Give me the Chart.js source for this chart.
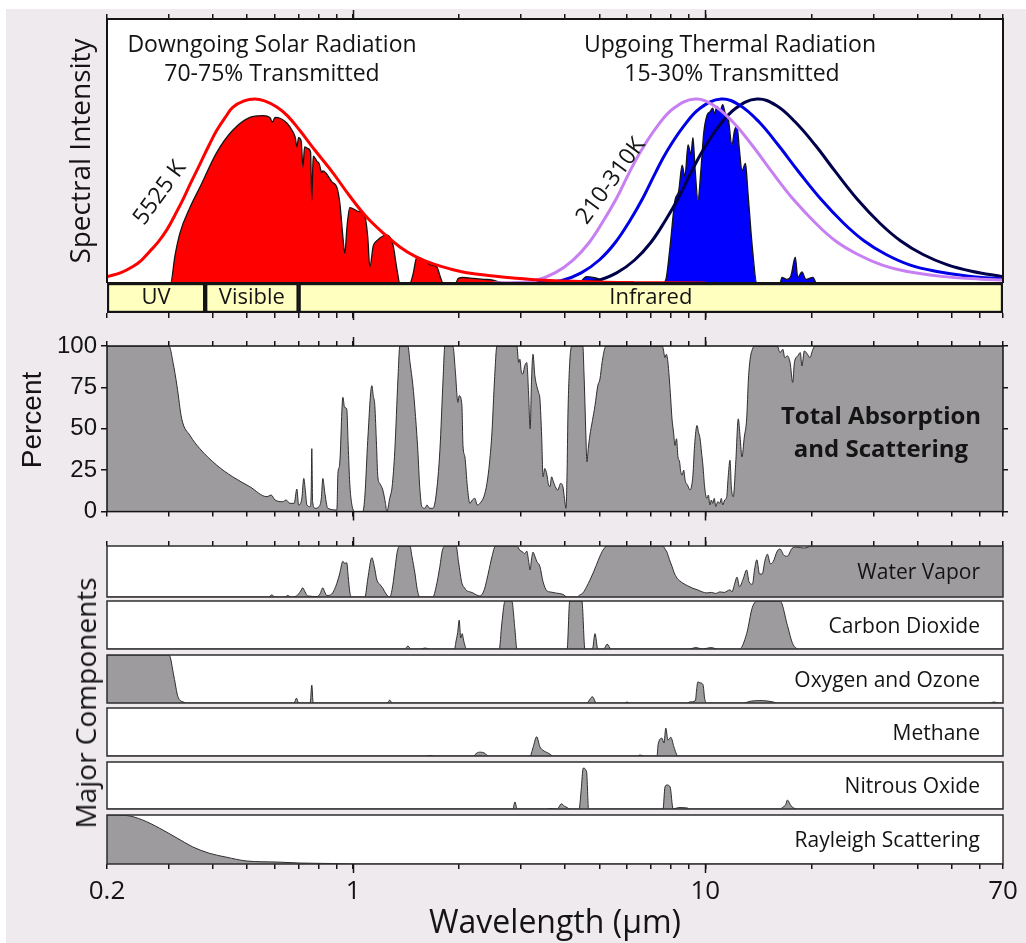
<!DOCTYPE html>
<html>
<head>
<meta charset="utf-8">
<title>Radiation transmitted by the atmosphere</title>
<script src="https://cdn.jsdelivr.net/npm/chart.js@4.4.1/dist/chart.umd.min.js"></script>
<style>
  html, body { margin: 0; padding: 0; background: #fff; }
  #page { position: relative; width: 1026px; height: 943px; overflow: hidden; }
  #paper { position: absolute; left: 6px; top: 9px; right: 0; bottom: 0; background: #eeeaee; }
  canvas { position: absolute; left: 0; }
  .vtitle {
    position: absolute;
    font-family: "Open Sans", sans-serif;
    font-size: 28px;
    color: #141414;
    white-space: nowrap;
    transform: translate(-50%, -50%) rotate(-90deg);
  }
</style>
</head>
<body>
<div id="page">
  <div id="paper"></div>
  <canvas id="spectrum" width="1026" height="283" style="top:0px"></canvas>
  <canvas id="bands" width="1026" height="39" style="top:281px"></canvas>
  <canvas id="absorption" width="1026" height="204" style="top:326px"></canvas>
  <div class="vtitle" style="left:85px; top:703px">Major Components</div>
</div>
<script>
// x axis (wavelength, µm)
const xTicks = [0.2, 0.3, 0.4, 0.5, 0.6, 0.7, 0.8, 0.9, 1, 2, 3, 4, 5, 6, 7, 8, 9, 10, 20, 30, 40, 50, 60, 70];
const xLabels = [0.2, 1, 10, 70];
const xMajor = [1, 10];
const percentTicks = [0, 25, 50, 75, 100];

const bandNames = ["UV", "Visible", "Infrared"];
const bandRanges = [[0.2, 0.38], [0.38, 0.7], [0.7, 70]];

// blackbody curves, normalised to their own peak: [wavelength, intensity]
const sun5525 = [[0.2, 0.034], [0.22, 0.058], [0.237, 0.09], [0.25, 0.122], [0.264, 0.17], [0.28, 0.225], [0.296, 0.29], [0.312, 0.37], [0.328, 0.45], [0.345, 0.54], [0.367, 0.645], [0.39, 0.75], [0.41, 0.83], [0.435, 0.905], [0.455, 0.955], [0.49, 0.99], [0.525, 1], [0.56, 0.99], [0.607, 0.957], [0.65, 0.91], [0.705, 0.83], [0.78, 0.72], [0.875, 0.6], [0.98, 0.47], [1.09, 0.36], [1.22, 0.27], [1.357, 0.196], [1.5, 0.145], [1.68, 0.105], [1.9, 0.075], [2.1, 0.056], [2.5, 0.038], [2.9, 0.026], [3.5, 0.015], [4.2, 0.009], [5.2, 0.004], [6.3, 0.002], [10, 0]];
const earth310 = [[2.5, 0], [2.9, 0.003], [3.27, 0.012], [3.74, 0.055], [4.21, 0.125], [4.68, 0.22], [5.14, 0.34], [5.61, 0.465], [6.08, 0.6], [6.55, 0.715], [7.29, 0.85], [8.13, 0.95], [9.35, 1], [10.57, 0.965], [11.97, 0.875], [13.56, 0.75], [15.43, 0.605], [17.77, 0.455], [20.57, 0.325], [23.38, 0.23], [27.12, 0.155], [31.79, 0.097], [37.4, 0.062], [46.75, 0.036], [60.8, 0.021], [70, 0.016]];
const earth260 = [[3, 0], [3.4, 0.003], [3.89, 0.012], [4.44, 0.055], [5.0, 0.125], [5.55, 0.22], [6.11, 0.34], [6.66, 0.465], [7.22, 0.6], [7.77, 0.715], [8.66, 0.85], [9.66, 0.95], [11.1, 1], [12.54, 0.965], [14.21, 0.875], [16.1, 0.75], [18.4, 0.605], [21.3, 0.455], [24.7, 0.325], [28.2, 0.23], [32.6, 0.155], [38.2, 0.097], [45, 0.064], [56, 0.037], [70, 0.022]];
const earth210 = [[3.6, 0], [4.2, 0.003], [4.9, 0.012], [5.6, 0.055], [6.3, 0.125], [7.0, 0.22], [7.7, 0.34], [8.4, 0.465], [9.1, 0.6], [9.8, 0.715], [10.9, 0.85], [12.2, 0.95], [14.0, 1], [15.9, 0.965], [18.0, 0.875], [20.5, 0.75], [23.4, 0.605], [27.0, 0.455], [31.3, 0.325], [35.8, 0.23], [41.5, 0.155], [48.5, 0.1], [57, 0.064], [70, 0.034]];

// radiation reaching the other side of the atmosphere
const solarTransmitted = [[0.29, 0], [0.303, 0], [0.312, 0.15], [0.322, 0.27], [0.344, 0.41], [0.367, 0.52], [0.41, 0.71], [0.455, 0.83], [0.509, 0.9], [0.554, 0.91], [0.58, 0.9], [0.59, 0.875], [0.6, 0.9], [0.648, 0.87], [0.675, 0.82], [0.685, 0.79], [0.692, 0.74], [0.7, 0.79], [0.712, 0.77], [0.72, 0.63], [0.728, 0.74], [0.745, 0.73], [0.757, 0.71], [0.763, 0.45], [0.77, 0.69], [0.79, 0.66], [0.8, 0.65], [0.815, 0.6], [0.82, 0.61], [0.835, 0.6], [0.87, 0.55], [0.899, 0.52], [0.917, 0.43], [0.935, 0.25], [0.947, 0.16], [0.96, 0.3], [0.978, 0.41], [1.03, 0.39], [1.08, 0.36], [1.1, 0.25], [1.115, 0.087], [1.14, 0.2], [1.168, 0.23], [1.246, 0.26], [1.28, 0.24], [1.3, 0.2], [1.33, 0.08], [1.357, 0], [1.45, 0], [1.48, 0.05], [1.516, 0.14], [1.6, 0.12], [1.65, 0.1], [1.728, 0.087], [1.77, 0.03], [1.8, 0], [1.95, 0], [1.99, 0.025], [2.05, 0.03], [2.2, 0.025], [2.35, 0.02], [2.49, 0.016], [2.6, 0.006], [2.75, 0]];
const thermalTransmitted = [[4.4, 0], [4.6, 0.035], [4.8, 0.03], [5.0, 0.02], [5.1, 0], [7.6, 0], [7.75, 0.03], [7.94, 0.2], [8.2, 0.45], [8.4, 0.5], [8.59, 0.64], [8.75, 0.58], [8.93, 0.75], [9.1, 0.7], [9.22, 0.79], [9.35, 0.62], [9.53, 0.45], [9.7, 0.6], [9.9, 0.82], [10.1, 0.91], [10.3, 0.93], [10.5, 0.95], [10.6, 0.92], [10.8, 0.96], [11.0, 0.93], [11.2, 0.97], [11.4, 0.92], [11.6, 0.9], [11.9, 0.75], [12.1, 0.83], [12.3, 0.85], [12.5, 0.72], [12.7, 0.61], [13.0, 0.65], [13.2, 0.5], [13.6, 0.19], [14.0, 0], [16.3, 0], [16.5, 0.03], [17.0, 0.02], [17.5, 0.04], [18.0, 0.14], [18.3, 0.03], [18.8, 0.06], [19.3, 0.02], [20.2, 0.03], [20.6, 0]];

// absorption and scattering, percent: [wavelength, %]
const totalAbsorption = [[0.2, 100], [0.3, 100], [0.308, 90], [0.316, 76], [0.326, 56], [0.344, 46], [0.367, 38], [0.41, 28], [0.455, 21], [0.509, 15], [0.569, 9], [0.585, 10], [0.6, 7], [0.631, 6], [0.645, 7], [0.661, 5], [0.68, 5], [0.692, 13.6], [0.7, 4], [0.715, 8], [0.724, 20], [0.732, 12], [0.739, 4], [0.755, 3], [0.76, 12], [0.763, 38], [0.767, 6], [0.78, 2], [0.8, 3], [0.812, 8], [0.82, 20], [0.83, 12], [0.847, 2], [0.899, 1], [0.905, 23], [0.915, 28], [0.935, 69], [0.945, 63], [0.959, 62], [0.968, 40], [0.978, 17], [0.99, 5], [1.01, 0], [1.065, 0], [1.08, 10], [1.1, 43], [1.13, 76], [1.14, 70], [1.152, 64], [1.165, 40], [1.175, 21], [1.19, 17], [1.214, 13], [1.235, 5], [1.246, 0], [1.27, 8], [1.29, 15], [1.313, 37], [1.34, 80], [1.357, 100], [1.43, 100], [1.45, 90], [1.478, 76], [1.5, 60], [1.526, 37], [1.545, 15], [1.567, 3], [1.6, 2], [1.619, 4], [1.65, 2], [1.684, 2], [1.72, 10], [1.763, 37], [1.8, 80], [1.821, 100], [1.919, 100], [1.95, 85], [1.983, 66], [2.0, 70], [2.036, 64], [2.05, 40], [2.076, 33], [2.11, 15], [2.144, 5], [2.18, 7], [2.216, 8], [2.25, 4], [2.29, 5], [2.35, 9], [2.398, 17], [2.44, 30], [2.478, 48], [2.52, 80], [2.56, 100], [2.916, 100], [2.95, 90], [2.974, 92], [3.0, 85], [3.03, 83], [3.07, 88], [3.11, 90], [3.15, 70], [3.18, 50], [3.21, 80], [3.24, 95], [3.28, 82], [3.32, 76], [3.36, 72], [3.39, 68], [3.43, 45], [3.46, 21], [3.5, 26], [3.55, 22], [3.58, 17], [3.62, 15], [3.66, 21], [3.69, 19], [3.75, 15], [3.81, 13], [3.88, 17], [3.94, 15], [3.98, 8], [4.02, 2], [4.05, 25], [4.07, 56], [4.12, 90], [4.18, 100], [4.49, 100], [4.52, 85], [4.55, 66], [4.58, 45], [4.61, 30], [4.65, 38], [4.7, 46], [4.78, 55], [4.86, 64], [4.95, 76], [5.02, 80], [5.09, 90], [5.19, 99], [5.26, 100], [7.5, 100], [7.58, 99], [7.68, 93], [7.75, 95], [7.83, 90], [7.95, 72], [8.04, 56], [8.12, 48], [8.2, 40], [8.28, 44], [8.36, 33], [8.45, 30], [8.5, 25], [8.59, 22], [8.68, 25], [8.76, 19], [8.9, 16], [9.05, 13], [9.15, 16], [9.22, 22], [9.32, 40], [9.47, 52], [9.56, 48], [9.66, 44], [9.75, 36], [9.85, 27], [9.95, 15], [10.1, 8], [10.2, 10], [10.3, 4], [10.4, 7], [10.5, 5], [10.6, 8], [10.7, 3], [10.85, 6], [11.0, 5], [11.1, 8], [11.2, 4], [11.35, 7], [11.5, 9], [11.6, 20], [11.75, 31], [11.85, 15], [12.0, 9], [12.2, 30], [12.4, 56], [12.55, 45], [12.7, 33], [12.9, 45], [13.1, 56], [13.25, 80], [13.4, 92], [13.6, 98], [13.8, 100], [16.0, 100], [16.3, 96], [16.6, 98], [16.8, 93], [17.1, 94], [17.4, 90], [17.7, 78], [17.9, 90], [18.3, 94], [18.6, 96], [18.8, 88], [19.1, 97], [19.5, 95], [19.8, 93], [20.2, 98], [20.5, 100], [70, 100]];

const waterVapor = [[0.2, 0], [0.575, 0], [0.587, 4], [0.6, 0], [0.64, 0], [0.652, 3], [0.665, 0], [0.69, 2], [0.7, 6], [0.71, 12], [0.719, 18], [0.73, 10], [0.743, 2], [0.79, 1], [0.805, 6], [0.82, 18], [0.83, 10], [0.842, 3], [0.87, 6], [0.885, 15], [0.899, 27], [0.915, 45], [0.935, 70], [0.945, 66], [0.959, 67], [0.968, 40], [0.978, 10], [0.99, 0], [1.08, 0], [1.1, 35], [1.13, 77], [1.148, 60], [1.168, 33], [1.19, 25], [1.214, 17], [1.24, 6], [1.27, 0], [1.29, 15], [1.313, 53], [1.335, 90], [1.357, 100], [1.45, 100], [1.468, 80], [1.497, 47], [1.52, 15], [1.547, 0], [1.684, 0], [1.72, 20], [1.763, 60], [1.79, 90], [1.821, 100], [1.96, 100], [1.99, 70], [2.036, 27], [2.07, 18], [2.104, 12], [2.15, 10], [2.188, 8], [2.24, 4], [2.29, 2], [2.35, 12], [2.42, 47], [2.48, 80], [2.536, 100], [2.916, 100], [2.97, 92], [3.03, 88], [3.07, 85], [3.11, 90], [3.15, 70], [3.18, 53], [3.21, 75], [3.24, 88], [3.28, 80], [3.32, 70], [3.39, 60], [3.46, 30], [3.55, 12], [3.62, 10], [3.75, 8], [3.94, 5], [4.05, 0], [4.32, 0], [4.4, 4], [4.49, 8], [4.6, 20], [4.7, 33], [4.8, 47], [4.9, 62], [5.02, 80], [5.12, 92], [5.26, 100], [7.58, 100], [7.68, 94], [7.78, 88], [7.9, 74], [8.04, 60], [8.15, 48], [8.31, 37], [8.45, 32], [8.64, 27], [8.9, 22], [9.22, 17], [9.5, 14], [9.8, 10], [10.1, 8], [10.4, 9], [10.7, 7], [11.0, 10], [11.3, 9], [11.75, 14], [11.9, 10], [12.1, 25], [12.3, 39], [12.5, 20], [12.8, 35], [13.1, 53], [13.3, 30], [13.6, 25], [13.8, 55], [14.0, 73], [14.25, 45], [14.5, 45], [14.75, 70], [15.0, 84], [15.3, 65], [15.6, 70], [16.0, 90], [16.3, 94], [16.7, 82], [17.1, 80], [17.6, 95], [18.2, 98], [19.0, 96], [20.2, 100], [70, 100]];
const carbonDioxide = [[0.2, 0], [1.4, 0], [1.43, 6], [1.46, 0], [1.55, 0], [1.6, 2], [1.65, 0], [1.94, 0], [1.96, 17], [1.98, 34], [2.0, 60], [2.02, 23], [2.04, 32], [2.06, 17], [2.1, 0], [2.6, 0], [2.64, 50], [2.7, 100], [2.82, 100], [2.88, 40], [2.916, 0], [4.05, 0], [4.12, 100], [4.46, 100], [4.55, 0], [4.78, 0], [4.86, 32], [4.95, 0], [5.15, 0], [5.26, 10], [5.4, 0], [9.0, 0], [9.4, 3], [9.8, 0], [10.4, 3], [10.8, 0], [12.5, 0], [13.1, 32], [13.6, 87], [14.1, 100], [16.3, 100], [17.1, 49], [17.7, 11], [18.5, 0], [70, 0]];
const oxygenOzone = [[0.2, 100], [0.3, 100], [0.31, 54], [0.318, 13], [0.33, 2], [0.336, 0], [0.68, 0], [0.69, 10], [0.7, 0], [0.755, 0], [0.763, 37], [0.77, 0], [1.25, 0], [1.27, 6], [1.29, 0], [4.6, 0], [4.78, 13], [4.9, 0], [5.9, 0], [6.0, 2], [6.1, 0], [8.9, 0], [9.0, 2], [9.37, 5], [9.45, 30], [9.52, 44], [9.65, 42], [9.85, 38], [9.95, 10], [10.1, 0], [12.8, 0], [13.5, 4], [14.5, 5], [15.6, 2], [16, 0], [64, 0], [66, 2], [68, 0], [70, 0]];
const methane = [[0.2, 0], [1.6, 0], [1.66, 1], [1.7, 0], [2.2, 0], [2.24, 6], [2.3, 8], [2.36, 6], [2.42, 0], [3.18, 0], [3.24, 17], [3.32, 40], [3.39, 19], [3.46, 12], [3.62, 4], [3.69, 0], [6.4, 0], [6.52, 2], [6.7, 0], [7.29, 0], [7.34, 23], [7.53, 37], [7.63, 27], [7.72, 58], [7.83, 33], [7.98, 39], [8.14, 19], [8.36, 0], [70, 0]];
const nitrousOxide = [[0.2, 0], [2.84, 0], [2.88, 15], [2.92, 0], [3.55, 0], [3.62, 1], [3.8, 0], [3.9, 11], [3.98, 6], [4.05, 3], [4.12, 0], [4.38, 0], [4.44, 40], [4.5, 87], [4.6, 79], [4.66, 0], [7.58, 0], [7.68, 47], [7.78, 51], [7.94, 47], [8.1, 0], [8.4, 3], [8.9, 2], [9.0, 0], [16.3, 0], [16.6, 4], [16.9, 9], [17.1, 19], [17.5, 7], [18.2, 0], [70, 0]];
const rayleigh = [[0.2, 100], [0.227, 99], [0.252, 90], [0.282, 73], [0.316, 53], [0.35, 35], [0.39, 22], [0.436, 14], [0.5, 6], [0.607, 4], [0.705, 2], [0.875, 1], [1.0, 0], [70, 0]];

const componentNames = ["Water Vapor", "Carbon Dioxide", "Oxygen and Ozone", "Methane", "Nitrous Oxide", "Rayleigh Scattering"];
const componentSeries = [waterVapor, carbonDioxide, oxygenOzone, methane, nitrousOxide, rayleigh];

// ---- look ----
const INK = "#141414";
const GRAY = "#9d9b9e";
const EDGE = "#2e2e2e";
const SANS = "'Open Sans', sans-serif";
const HELV = "'Liberation Sans', Arial, sans-serif";
const PLOT_LEFT = 107;
const RIGHT_GAP = 23;
const panelTops = [546, 601, 655, 708, 762, 815];
const panelBottoms = [597, 649, 703, 756, 809, 864];

Chart.defaults.font.family = SANS;
Chart.defaults.color = INK;

function pts(arr) {
  return arr.map(([x, y]) => ({ x, y }));
}

function curve(arr, color) {
  return {
    data: pts(arr),
    borderColor: color,
    borderWidth: 3,
    pointRadius: 0,
    fill: false,
    tension: 0.4,
    order: 0,
  };
}

function area(arr, fillColor, lineColor, width) {
  return {
    data: pts(arr),
    xAxisID: "x",
    yAxisID: "y",
    borderColor: lineColor,
    borderWidth: width,
    backgroundColor: fillColor,
    pointRadius: 0,
    fill: "origin",
    cubicInterpolationMode: "monotone",
    order: 1,
  };
}

function logAxis(position, height, extra) {
  return Object.assign({
    type: "logarithmic",
    position,
    min: 0.2,
    max: 70,
    afterBuildTicks: (s) => { s.ticks = xTicks.map((value) => ({ value })); },
    afterFit: (s) => { s.height = height; },
    grid: { drawOnChartArea: false, drawTicks: true, tickLength: 5, color: INK, lineWidth: 1.5 },
    border: { display: false },
    ticks: { display: false },
  }, extra || {});
}

function percentAxis(position, width, extra) {
  return Object.assign({
    position,
    min: 0,
    max: 100,
    afterBuildTicks: (s) => { s.ticks = percentTicks.map((value) => ({ value })); },
    afterFit: (s) => { s.width = width; },
    grid: { drawOnChartArea: false, drawTicks: true, tickLength: 5, color: INK, lineWidth: 1.5 },
    border: { display: false },
    ticks: { display: false },
  }, extra || {});
}

// white plot area, frame, long decade ticks and free text
function panelPlugin(o) {
  return {
    id: "panel",
    beforeDraw(chart) {
      if (o.bg === null) return;
      const { ctx, chartArea: a } = chart;
      ctx.save();
      ctx.fillStyle = "#fff";
      ctx.fillRect(a.left, a.top, a.right - a.left, a.bottom - a.top);
      ctx.restore();
    },
    afterDraw(chart) {
      const { ctx, chartArea: a } = chart;
      const x = chart.scales.x;
      ctx.save();
      if (o.frame) {
        ctx.strokeStyle = o.frameColor || INK;
        ctx.lineWidth = o.frame;
        ctx.strokeRect(a.left, a.top, a.right - a.left, a.bottom - a.top);
      }
      ctx.strokeStyle = INK;
      ctx.lineWidth = 1.5;
      xMajor.forEach((v) => {
        const px = Math.round(x.getPixelForValue(v)) + 0.5;
        ctx.beginPath();
        if (o.majorTop) { ctx.moveTo(px, a.top); ctx.lineTo(px, a.top - 9); }
        if (o.majorBottom) { ctx.moveTo(px, a.bottom); ctx.lineTo(px, a.bottom + 9); }
        ctx.stroke();
      });
      (o.texts || []).forEach((t) => {
        ctx.save();
        ctx.font = `${t.weight || 400} ${t.size}px ${t.family || SANS}`;
        ctx.fillStyle = INK;
        ctx.textAlign = t.align || "center";
        ctx.textBaseline = "middle";
        ctx.translate(t.x, t.y - o.top);
        if (t.rotate) ctx.rotate((t.rotate * Math.PI) / 180);
        ctx.fillText(t.text, 0, 0);
        ctx.restore();
      });
      ctx.restore();
    },
  };
}

const bandLabels = {
  id: "bandLabels",
  afterDatasetsDraw(chart) {
    const { ctx } = chart;
    ctx.save();
    ctx.font = `400 22px ${SANS}`;
    ctx.fillStyle = INK;
    ctx.textAlign = "center";
    ctx.textBaseline = "middle";
    chart.data.datasets.forEach((ds, i) => {
      const bar = chart.getDatasetMeta(i).data[0];
      const c = bar.getCenterPoint();
      ctx.fillText(ds.label, c.x, c.y);
    });
    ctx.restore();
  },
};

const baseOptions = {
  responsive: false,
  animation: false,
  events: [],
  plugins: { legend: { display: false }, tooltip: { enabled: false } },
};

// ---- top: spectral intensity ----
new Chart(document.getElementById("spectrum"), {
  type: "line",
  data: {
    datasets: [
      curve(sun5525, "#ff0000"),
      curve(earth310, "#c77ff2"),
      curve(earth260, "#0000e6"),
      curve(earth210, "#00004a"),
      area(solarTransmitted, "#ff0000", INK, 1.3),
      area(thermalTransmitted, "#0000ff", INK, 1.3),
    ],
  },
  options: {
    ...baseOptions,
    layout: { padding: { top: 14, right: RIGHT_GAP, left: 0, bottom: 0 } },
    scales: {
      x: logAxis("top", 5),
      y: {
        min: 0,
        max: 1.435,
        afterFit: (s) => { s.width = PLOT_LEFT; },
        grid: { display: false },
        border: { display: false },
        ticks: { display: false },
        title: { display: true, text: "Spectral Intensity", font: { size: 28 }, color: INK, padding: { top: 65, bottom: 0 } },
      },
    },
  },
  plugins: [panelPlugin({
    top: 0,
    frame: 2,
    majorTop: true,
    texts: [
      { text: "Downgoing Solar Radiation", x: 272, y: 45, size: 23 },
      { text: "70-75% Transmitted", x: 272, y: 74, size: 23 },
      { text: "Upgoing Thermal Radiation", x: 730, y: 45, size: 23 },
      { text: "15-30% Transmitted", x: 732, y: 74, size: 23 },
      { text: "5525 K", x: 160, y: 193, size: 23, rotate: -54 },
      { text: "210-310K", x: 611, y: 181, size: 23, rotate: -54 },
    ],
  })],
});

// ---- UV / Visible / Infrared strip ----
new Chart(document.getElementById("bands"), {
  type: "bar",
  data: {
    labels: ["band"],
    datasets: bandNames.map((name, i) => ({
      label: name,
      data: [bandRanges[i]],
      backgroundColor: "#ffffc0",
      borderColor: INK,
      borderWidth: 2.5,
      borderSkipped: false,
      grouped: false,
      barPercentage: 1,
      categoryPercentage: 1,
    })),
  },
  options: {
    ...baseOptions,
    indexAxis: "y",
    layout: { padding: { top: 2, right: RIGHT_GAP, left: PLOT_LEFT, bottom: 2 } },
    scales: {
      x: logAxis("bottom", 5),
      y: { display: false },
    },
  },
  plugins: [panelPlugin({ top: 281, bg: null, majorBottom: true }), bandLabels],
});

// ---- total absorption and scattering ----
new Chart(document.getElementById("absorption"), {
  type: "line",
  data: { datasets: [area(totalAbsorption, GRAY, EDGE, 1)] },
  options: {
    ...baseOptions,
    layout: { padding: { top: 15, right: 0, left: 0, bottom: 10 } },
    scales: {
      x: logAxis("bottom", 5),
      xTop: logAxis("top", 5),
      y: percentAxis("left", PLOT_LEFT, {
        grid: { drawOnChartArea: false, drawTicks: true, tickLength: 6, color: INK, lineWidth: 1.5 },
        ticks: { display: true, font: { family: HELV, size: 24 }, color: INK, padding: 4 },
      }),
      yR: percentAxis("right", RIGHT_GAP),
    },
  },
  plugins: [panelPlugin({
    top: 326,
    frame: 1.5,
    majorTop: true,
    majorBottom: true,
    texts: [
      { text: "Percent", x: 33, y: 420, size: 28, family: HELV, rotate: -90 },
      { text: "Total Absorption", x: 881, y: 417, size: 24, weight: 700 },
      { text: "and Scattering", x: 881, y: 450, size: 24, weight: 700 },
    ],
  })],
});

// ---- major components ----
componentSeries.forEach((series, i) => {
  const first = i === 0;
  const last = i === componentSeries.length - 1;
  const top = first ? panelTops[i] - 13 : panelTops[i] - 2;
  const bottom = last ? 943 : panelBottoms[i] + 2;
  const cv = document.createElement("canvas");
  cv.width = 1026;
  cv.height = bottom - top;
  cv.style.top = top + "px";
  document.getElementById("page").insertBefore(cv, document.querySelector(".vtitle"));

  let x;
  if (first) {
    x = logAxis("top", 5);
  } else if (last) {
    x = logAxis("bottom", 79, {
      ticks: {
        display: true,
        autoSkip: false,
        maxRotation: 0,
        padding: 7,
        font: { size: 26 },
        color: INK,
        callback: (v) => (xLabels.includes(v) ? String(v) : ""),
      },
      title: { display: true, text: "Wavelength (μm)", font: { size: 32 }, color: INK, padding: { top: 0, bottom: 0 } },
    });
  } else {
    x = Object.assign(logAxis("bottom", 0), { display: false });
  }

  new Chart(cv, {
    type: "line",
    data: { datasets: [area(series, GRAY, EDGE, 1)] },
    options: {
      ...baseOptions,
      layout: { padding: { top: first ? 8 : 2, right: RIGHT_GAP, left: PLOT_LEFT, bottom: last ? 0 : 2 } },
      scales: {
        x,
        y: { display: false, min: 0, max: 100 },
      },
    },
    plugins: [panelPlugin({
      top,
      frame: 1.5,
      frameColor: EDGE,
      majorTop: first,
      majorBottom: last,
      texts: [{ text: componentNames[i], x: 980, y: (panelTops[i] + panelBottoms[i]) / 2 + 2, size: 21, align: "right" }],
    })],
  });
});
</script>
</body>
</html>
